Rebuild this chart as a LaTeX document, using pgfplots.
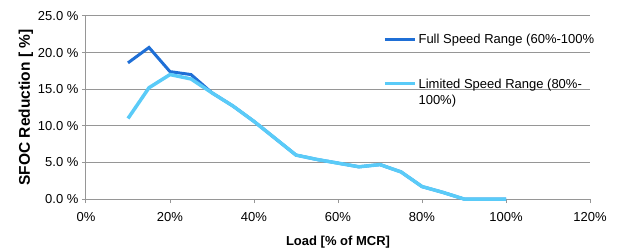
\documentclass[border=0pt]{standalone}
\usepackage{pgfplots}
\pgfplotsset{compat=1.18}
\usepackage{fontspec}
\setmainfont{Liberation Sans}
\definecolor{fullc}{HTML}{1F6FD6}
\definecolor{limc}{HTML}{5ACBF8}
\definecolor{gridc}{HTML}{969696}
\begin{document}
\begin{tikzpicture}
\begin{axis}[
  name=ax,
  scale only axis,
  width=504pt, height=183pt,
  xmin=0, xmax=120, ymin=0, ymax=25,
  axis lines=left,
  axis line style={gridc, line width=1pt, -},
  xtick={0,20,40,60,80,100,120},
  xticklabels={0\%,20\%,40\%,60\%,80\%,100\%,120\%},
  ytick={0,5,10,15,20,25},
  yticklabels={0.0 \%,5.0 \%,10.0 \%,15.0 \%,20.0 \%,25.0 \%},
  ymajorgrids,
  grid style={gridc, line width=1pt},
  tick align=outside,
  major tick length=4pt,
  tick style={gridc, line width=1pt},
  ticklabel style={font=\fontsize{13}{15}\selectfont},
  xticklabel style={yshift=-6pt},
  xlabel={\textbf{Load [\% of MCR]}},
  ylabel={\textbf{SFOC Reduction [ \%]}},
  xlabel style={font=\fontsize{13}{15}\selectfont, yshift=-7pt},
  ylabel style={font=\fontsize{15.5}{17}\selectfont, yshift=-2pt},
  legend style={at={(rel axis cs:0.589,0.913)}, anchor=north west, draw=none, fill=none,
    font=\fontsize{13}{17}\selectfont, inner sep=0pt, row sep=28pt},
  legend cell align=left,
  legend image code/.code={\draw[#1, line width=3.5pt] (2pt,0pt) -- (32pt,0pt);},
  clip=false,
]
\addplot[fullc, line width=3pt] coordinates {
(10,18.6) (15,20.7) (20,17.4) (25,17.0) (30,14.5) (35,12.7) (40,10.6) (45,8.3)
(50,6.0) (55,5.4) (60,4.9) (65,4.4) (70,4.7) (75,3.7) (80,1.7) (85,0.9) (90,0.0) (95,0.0) (100,0.0)};
\addlegendentry{Full Speed Range (60\%-100\%}
\addplot[limc, line width=3.5pt] coordinates {
(10,11.0) (15,15.2) (20,17.0) (25,16.4) (30,14.5) (35,12.7) (40,10.6) (45,8.3)
(50,6.0) (55,5.4) (60,4.9) (65,4.4) (70,4.7) (75,3.7) (80,1.7) (85,0.9) (90,0.0) (95,0.0) (100,0.0)};
\addlegendentry{\begin{tabular}[t]{@{}l@{}}Limited Speed Range (80\%-\\[-1pt]100\%)\end{tabular}}
\end{axis}
\pgfresetboundingbox
\path ([xshift=-86pt,yshift=-52pt]ax.south west) rectangle ([xshift=27pt,yshift=16pt]ax.north east);
\end{tikzpicture}
\end{document}
